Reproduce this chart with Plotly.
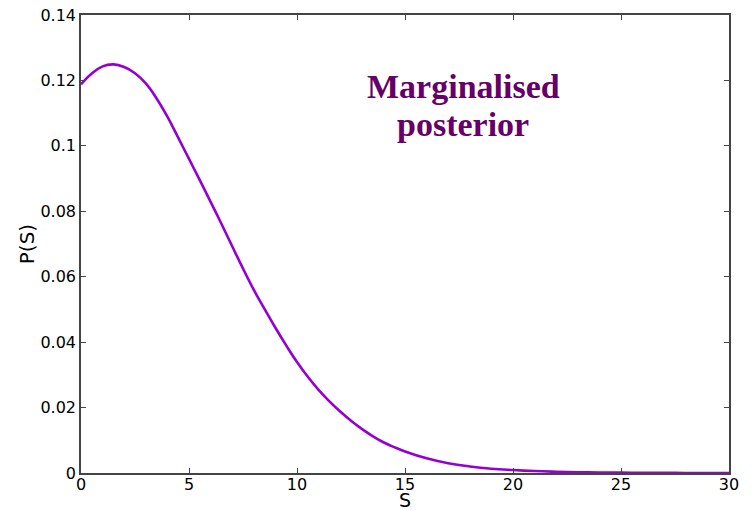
import plotly.graph_objects as go

S_vals = [0, 0.5, 1, 1.5, 2, 2.5, 3, 3.5, 4, 4.5, 5, 5.5, 6, 6.5, 7, 7.5, 8, 8.5, 9, 9.5,
          10, 10.5, 11, 11.5, 12, 12.5, 13, 13.5, 14, 14.5, 15,
          16, 17, 18, 19, 20, 21, 22, 23, 24, 25, 26, 27, 28, 29, 30]
P_vals = [0.1188, 0.1221, 0.1243, 0.1249, 0.1241, 0.1222, 0.1191, 0.1145, 0.1089, 0.1025,
          0.0960, 0.0895, 0.0829, 0.0762, 0.0693, 0.0625, 0.0560, 0.0501, 0.0444, 0.0390,
          0.0339, 0.0294, 0.0254, 0.0219, 0.0188, 0.0160, 0.0135, 0.0113, 0.0094, 0.0079,
          0.0066, 0.0045, 0.0030, 0.0020, 0.0013, 0.0009, 0.0006, 0.0004, 0.00025, 0.00015,
          0.0001, 0.00006, 0.00004, 0.00002, 0.00001, 0.00001]

x_ticks = [0, 5, 10, 15, 20, 25, 30]
y_ticks = [0, 0.02, 0.04, 0.06, 0.08, 0.1, 0.12, 0.14]
y_tick_text = ["0", "0.02", "0.04", "0.06", "0.08", "0.1", "0.12", "0.14"]

fig = go.Figure()
fig.add_trace(go.Scatter(x=S_vals, y=P_vals, mode="lines",
                         line=dict(color="#9400D3", width=2.6, shape="spline", smoothing=1.2),
                         showlegend=False))

axis_common = dict(showline=True, linecolor="#444444", linewidth=1.5, mirror="ticks",
                   ticks="inside", ticklen=5, tickcolor="#444444", tickwidth=1,
                   showgrid=False, zeroline=False, automargin=False,
                   tickfont=dict(family="DejaVu Sans", size=16, color="black"))

fig.update_xaxes(range=[0, 30], tickvals=x_ticks, ticklabelstandoff=-4, **axis_common)
fig.update_yaxes(range=[0, 0.14], tickvals=y_ticks, ticktext=y_tick_text,
                 title=dict(text="P(S)", font=dict(family="DejaVu Sans", size=20, color="black"),
                            standoff=0),
                 **axis_common)

# x-axis title placed as annotation just below tick labels
fig.add_annotation(x=0.5, y=0, xref="paper", yref="paper", yanchor="top", yshift=-14,
                   showarrow=False, text="S",
                   font=dict(family="DejaVu Sans", size=19, color="black"))

text_font = dict(family="Liberation Serif", size=34, color="#660066")
fig.add_annotation(x=17.7, y=0.1180, xref="x", yref="y", showarrow=False,
                   text="<b>Marginalised</b>", font=text_font)
fig.add_annotation(x=17.7, y=0.1064, xref="x", yref="y", showarrow=False,
                   text="<b>posterior</b>", font=text_font)

fig.update_layout(width=755, height=510, margin=dict(l=81, r=26, t=15, b=37),
                  plot_bgcolor="white", paper_bgcolor="white")

fig.write_html("out.html")
